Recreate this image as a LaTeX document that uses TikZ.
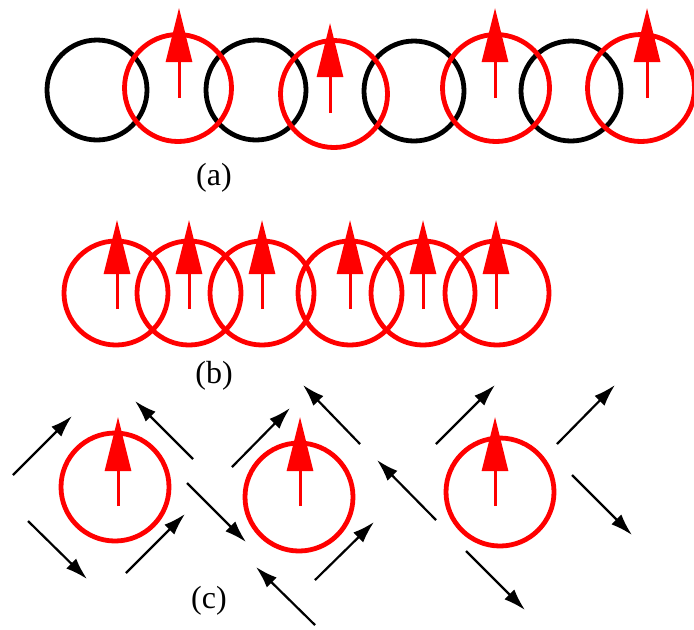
\documentclass[tikz,border=0pt]{standalone}
\usepackage{fontspec}
\setmainfont{Liberation Serif}
\usetikzlibrary{arrows.meta,calc}

\begin{document}
\begin{tikzpicture}[x=0.5pt, y=-0.5pt]

  % Styles
  \tikzset{
    redring/.style={draw=red, line width=2.4pt, circle, inner sep=0pt, minimum size=#1},
    blackring/.style={draw=black, line width=2.4pt, circle, inner sep=0pt, minimum size=50pt},
    spin/.style={draw=red, line width=1.5pt, -{Triangle[length=27pt, width=13pt]}},
    flow/.style={draw=black, line width=1.1pt, -{Latex[length=11pt, width=7pt]}},
    caption/.style={font=\fontsize{16}{19}\selectfont}
  }

  \useasboundingbox (0,0) rectangle (694,629);

  % Row (a): black and red rings in turn
  \node[blackring] (ka1) at (97,90) {};
  \node[blackring] (ka2) at (256,90) {};
  \node[blackring] (ka3) at (414,91) {};
  \node[blackring] (ka4) at (571,91) {};
  \node[redring=53.5pt] (ra1) at (178,88) {};
  \node[redring=53.5pt] (ra2) at (334,94) {};
  \node[redring=53.5pt] (ra3) at (496,88) {};
  \node[redring=53.5pt] (ra4) at (641,88) {};

  \draw[spin] ($(ra1)+(1,10)$) -- ++(0,-90);
  \draw[spin] ($(ra2)+(-4,19)$) -- ++(0,-90);
  \draw[spin] ($(ra3)+(-1,10)$) -- ++(0,-90);
  \draw[spin] ($(ra4)+(6,10)$) -- ++(0,-90);

  \node[caption] (capa) at (214,178) {(a)};

  % Row (b): red rings only
  \node[redring=52pt] (rb1) at (116,293) {};
  \node[redring=52pt] (rb2) at (189,293) {};
  \node[redring=52pt] (rb3) at (262,293) {};
  \node[redring=52pt] (rb4) at (350,293) {};
  \node[redring=52pt] (rb5) at (423,293) {};
  \node[redring=52pt] (rb6) at (497,293) {};

  \draw[spin] ($(rb1)+(1,16)$) -- ++(0,-89);
  \draw[spin] ($(rb2)+(0,16)$) -- ++(0,-89);
  \draw[spin] ($(rb3)+(0,16)$) -- ++(0,-89);
  \draw[spin] ($(rb4)+(0,16)$) -- ++(0,-89);
  \draw[spin] ($(rb5)+(0,16)$) -- ++(0,-89);
  \draw[spin] ($(rb6)+(-1,16)$) -- ++(0,-89);

  \node[caption] (capb) at (214,376) {(b)};

  % Row (c): single rings with surrounding flow
  \node[redring=54pt] (rc1) at (115,487) {};
  \node[redring=54pt] (rc2) at (299,497) {};
  \node[redring=54pt] (rc3) at (500,492) {};

  \draw[spin] ($(rc1)+(3,19)$) -- ++(0,-89);
  \draw[spin] ($(rc2)+(1,9)$) -- ++(0,-89);
  \draw[spin] ($(rc3)+(-5,14)$) -- ++(0,-89);

  \draw[flow] (13,475) -- (72,416);
  \draw[flow] (193,459) -- (135,401);
  \draw[flow] (28,521) -- (87,579);
  \draw[flow] (126,573) -- (185,514);
  \draw[flow] (187,483) -- (246,542);

  \draw[flow] (232,467) -- (290,408);
  \draw[flow] (360,444) -- (303,385);
  \draw[flow] (315,580) -- (374,522);
  \draw[flow] (315,625) -- (256,567);

  \draw[flow] (436,444) -- (495,385);
  \draw[flow] (557,444) -- (615,385);
  \draw[flow] (436,520) -- (377,460);
  \draw[flow] (572,475) -- (632,535);
  \draw[flow] (466,551) -- (525,610);

  \node[caption] (capc) at (209,601) {(c)};

\end{tikzpicture}
\end{document}
